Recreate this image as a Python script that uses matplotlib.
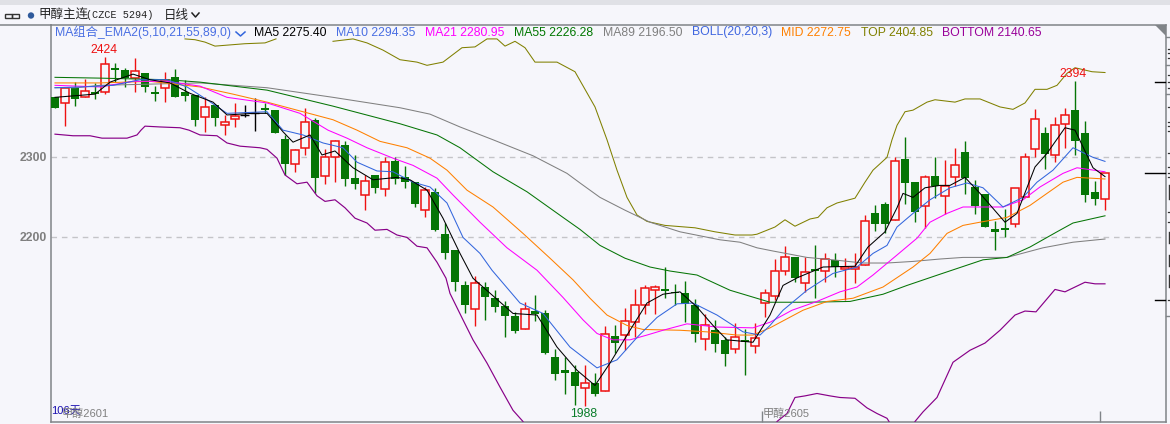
import numpy as np
from matplotlib import pyplot as plt
from matplotlib.lines import Line2D
from matplotlib.patches import Rectangle, Polygon, Ellipse

plt.rcParams['font.family'] = ['Liberation Sans', 'Noto Sans CJK SC', 'DejaVu Sans']

# daily candles
opens = [2374,2367,2386,2374,2381,2381,2411,2408,2398,2404,2381,2386,2399,2381,2377,2349,2364,2339,2347,2352,
         2354,2361,2358,2322,2291,2311,2346,2276,2299,2314,2273,2252,2277,2259,2294,2274,2268,2233,2256,2203,
         2183,2139,2109,2137,2123,2113,2101,2084,2107,2104,2049,2033,2031,2011,2017,2007,2076,2077,2093,2114,
         2133,2134,2131,2129,2114,2072,2083,2071,2059,2071,2063,2117,2126,2157,2174,2142,2159,2157,2171,2160,
         2160,2164,2229,2241,2221,2297,2268,2238,2276,2251,2274,2306,2262,2253,2209,2211,2216,2249,2309,2329,
         2302,2341,2358,2329,2256,2247]
highs = [2374,2386,2393,2397,2392,2424,2417,2411,2423,2404,2388,2406,2409,2396,2377,2374,2366,2352,2367,2364,
         2373,2367,2358,2327,2309,2361,2348,2309,2321,2319,2302,2277,2277,2299,2299,2288,2268,2262,2261,2217,
         2183,2144,2151,2143,2133,2119,2106,2118,2127,2108,2059,2049,2039,2039,2029,2088,2089,2111,2134,2139,
         2139,2162,2141,2144,2122,2103,2096,2074,2092,2084,2092,2134,2172,2188,2174,2174,2189,2179,2179,2173,
         2179,2227,2239,2243,2299,2324,2268,2277,2299,2296,2311,2319,2271,2253,2219,2234,2261,2304,2359,2337,
         2349,2361,2394,2344,2269,2279]
lows = [2361,2338,2363,2374,2372,2378,2393,2387,2381,2381,2369,2368,2374,2369,2338,2331,2338,2327,2337,2349,
        2332,2354,2329,2277,2281,2302,2254,2266,2268,2263,2259,2233,2254,2251,2266,2261,2237,2224,2207,2172,
        2132,2104,2088,2096,2106,2074,2079,2084,2094,2053,2021,2003,1989,1988,2001,2007,2054,2058,2074,2103,
        2103,2123,2114,2093,2068,2058,2056,2038,2054,2027,2054,2099,2121,2152,2143,2131,2123,2143,2149,2121,
        2142,2164,2207,2204,2221,2241,2218,2211,2248,2228,2263,2253,2228,2212,2183,2199,2212,2249,2299,2284,
        2293,2311,2302,2243,2239,2233]
closes = [2361,2386,2372,2382,2378,2416,2408,2398,2407,2387,2378,2396,2374,2376,2346,2362,2348,2343,2351,2352,
          2354,2358,2329,2291,2308,2343,2273,2299,2319,2272,2266,2269,2261,2293,2272,2268,2241,2258,2208,2179,
          2143,2114,2142,2124,2112,2101,2082,2109,2103,2054,2028,2029,2013,2017,2003,2078,2067,2094,2114,2136,
          2137,2132,2129,2116,2078,2089,2066,2053,2074,2068,2073,2129,2157,2174,2148,2156,2157,2172,2162,2162,
          2162,2219,2216,2216,2294,2267,2231,2274,2263,2263,2289,2273,2238,2212,2206,2208,2261,2299,2347,2303,
          2339,2352,2319,2252,2247,2279]

# overlay lines (x = candle number)
ma5_x = [0,4,5.5,7.8,9.5,11.5,13.5,15.8,17.2,19.8,21.2,22.8,23.8,25.5,26.7,28,29.8,31.8,34.2,35.5,37.2,38.8,40.5,41.8,42.8,45.8,48.2,50.2,52.2,54,55.5,57.5,59.2,60.8,62.5,64.2,65.8,67.2,69.8,71.5,72.8,74.3,76.8,80,81.3,83,84.2,84.8,85.8,87,88.5,89.5,91,92.5,95,96.2,98,99.2,101,102,103.8,105]
ma5 = [2374,2378,2393,2403,2396,2392,2379,2368,2352,2354,2354,2331,2318,2327,2302,2307,2286,2271,2274,2271,2258,2223,2179,2148,2137,2104,2102,2062,2033,2014,2042,2083,2117,2128,2131,2112,2089,2071,2068,2102,2139,2149,2162,2163,2187,2206,2236,2254,2249,2261,2264,2264,2274,2254,2218,2229,2287,2304,2336,2333,2286,2275]
ma10_x = [0,2.8,5.8,8.5,11.2,13.2,15.2,17.2,21.2,22.8,24.8,26.8,28.8,30.2,32.2,33.8,35.8,37.5,39.2,40.8,42.5,43.7,46.5,48.8,51.5,54.2,56.2,58.2,60.2,62.2,63.8,66.2,68.8,70.5,71.5,72.8,75.2,77.8,80.2,81.8,83.2,84.2,85.8,87.5,89.5,91.2,92.8,94.8,96.8,98.2,99.8,101.8,103.8,105]
ma10 = [2386,2387,2389,2396,2396,2387,2371,2354,2356,2333,2327,2317,2311,2293,2282,2281,2268,2262,2242,2199,2179,2158,2117,2104,2062,2036,2046,2074,2099,2116,2117,2102,2081,2077,2089,2108,2133,2154,2162,2179,2189,2212,2229,2246,2261,2267,2261,2237,2249,2268,2283,2311,2299,2294]
ma21_x = [0,4.5,7.8,11.2,14.5,17.2,21.2,24.5,27.3,29.2,31.2,33.8,35.8,38.2,39.8,42.5,45.2,48.2,50.8,52.8,54.2,55.8,57.5,59.2,60.8,63.2,66.2,69.8,71.5,73.7,76.2,78.5,80.2,81.8,84.2,86.2,87.5,89.2,90.8,94.8,96.8,98.5,100.8,102.2,105]
ma21 = [2389,2387,2394,2394,2388,2374,2367,2354,2333,2323,2311,2298,2289,2273,2252,2218,2186,2158,2124,2096,2079,2071,2071,2077,2083,2091,2087,2086,2093,2108,2119,2131,2137,2152,2177,2198,2218,2229,2237,2237,2246,2262,2279,2286,2281]
ma55_x = [0,4.5,11.2,14.5,21.2,27.8,34.5,38.2,40.5,43.8,47.2,50.8,52.5,54.5,57,59.5,61.5,64.2,67.5,71.5,75.2,79.5,82.8,85.2,88.5,92.8,95.2,97.5,100.2,101.8,105]
ma55 = [2399,2398,2396,2393,2383,2363,2341,2327,2311,2281,2256,2224,2209,2189,2173,2162,2157,2152,2133,2118,2118,2119,2128,2139,2153,2171,2174,2187,2206,2217,2226]
ma89_x = [0,2,4.5,14.5,21.2,27.8,34.5,37.5,40.5,43.8,45.2,47.8,51.2,52.5,54.5,57,59.5,62.5,66.5,68.5,70.2,71.8,75.2,77.8,80.8,83.2,85.8,88.5,90.8,95.2,98.8,101.8,105]
ma89 = [2386,2386,2389,2392,2386,2374,2361,2353,2337,2321,2314,2301,2279,2267,2249,2233,2218,2206,2196,2193,2186,2182,2174,2171,2167,2167,2169,2172,2174,2174,2186,2193,2197]
mid_x = [0,4.5,9.5,14.5,17.8,21.2,27.8,30.2,32.5,35.2,37.5,39.2,41.2,43.8,46.8,49.5,51.8,53.5,55.2,57.2,58.8,62.5,65.2,68.2,69.8,71.5,74.8,77.2,79.8,82.8,85.8,87.5,89.2,90.8,92.5,95.2,97.5,99.2,100.8,102.2,105]
mid = [2392,2392,2394,2387,2378,2368,2346,2333,2319,2311,2298,2283,2258,2237,2204,2173,2146,2123,2102,2089,2084,2083,2081,2077,2077,2086,2108,2119,2123,2137,2162,2179,2204,2214,2218,2224,2239,2254,2268,2274,2272]
top_x = [13,14,15,16,17,19,21,22.1,25,27.8,29.8,31.2,32.8,34.5,36.2,37.2,38.8,40.7,42,43.2,44.2,45,46,47,48,50.2,52,54,55.2,56.2,57.2,58.2,59.2,61,64,66,68,69.7,70.2,72,73,74,75.5,76.3,77.2,78.2,80,81,81.8,83.2,83.7,84.2,85,85.8,87.2,88,90,91,92.5,94.5,95.8,97,98,99.2,100.2,101.2,102,103.7,105]
top = [2447,2446,2443,2438,2439,2441,2442,2447,np.nan,2444,2447,2442,2433,2421,2418,2414,2418,2436,2437,2447,2447,2438,2444,2436,2418,2418,2406,2362,2321,2283,2249,2227,2219,2214,2211,2206,2202,2202,2203,2212,2221,2213,2222,2224,2236,2242,2248,2268,2283,2299,2321,2339,2356,2358,2368,2371,2368,2372,2372,2362,2359,2367,2384,2384,2389,2404,2411,2406,2405]
bottom_x = [0,1.8,3.5,4.7,7.2,8.2,8.6,9,10.5,12.5,13.4,14.5,16.2,17.2,18.5,20.5,21.2,22.2,23,24.2,25.2,26.2,27,28,29,30,31.2,32,33.2,34.2,35.2,36.2,37.2,38.2,39.1,39.5,40.8,41.8,43.2,44.5,45.8,46.8,60,72.2,73.2,74,75,76.2,77.5,78.5,80,81.2,82.2,83.2,83.4,85,86,86.8,88.2,89.8,91.5,93,94.5,96,97,98.1,100,101,103,104,105]
bottom = [2328,2326,2326,2323,2323,2327,2333,2338,2337,2336,2333,2327,2326,2317,2313,2311,2309,2298,2277,2266,2268,2251,2244,2246,2236,2223,2217,2208,2209,2202,2199,2188,2186,2168,2148,2129,2096,2071,2042,2012,1983,1969,np.nan,1969,1979,1999,2001,2004,2001,1999,1998,1986,1979,1973,1969,np.nan,1969,1981,1999,2043,2058,2067,2083,2102,2107,2106,2134,2131,2143,2141,2141]

legend_items = [('MA组合_EMA2(5,10,21,55,89,0)', 55, '#4a6fe3'), ('MA5 2275.40', 254, '#000000'),
                ('MA10 2294.35', 336, '#4a6fe3'), ('MA21 2280.95', 425, '#ff00ff'),
                ('MA55 2226.28', 514, '#007700'), ('MA89 2196.50', 603, '#808080'),
                ('BOLL(20,20,3)', 692, '#3f66e0'), ('MID 2272.75', 781, '#ff8000'),
                ('TOP 2404.85', 861, '#808000'), ('BOTTOM 2140.65', 942, '#990099')]

W, H = 1170, 424
BG = '#f6f6fb'
RED = '#ee1111'
GREEN = '#067506'
GRAY = '#808488'


def fx(x):
    return x / W


def fy(y):
    return 1 - y / H


fig = plt.figure(figsize=(W / 100, H / 100), dpi=100, facecolor=BG)
ax = fig.add_axes([fx(51), fy(421.5), (1166 - 51) / W, (421.5 - 24.5) / H], facecolor=BG)
ax.set_xlim(-0.4, 111.1)
ax.set_ylim(1969.0, 2465.0)

ax.set_yticks([2200, 2300])
ax.set_xticks([70.7, 104.5])
ax.set_xticklabels(['', ''])
ax.tick_params(axis='y', length=0, pad=3, labelsize=8.8, labelcolor='#7f7f7f')
ax.tick_params(axis='x', direction='in', length=8, width=1, color=GRAY)
for t in ax.get_yticklabels():
    t.set_fontweight('bold')
ax.grid(axis='y', color='#c4c4c8', linestyle=(0, (4, 3.5)), linewidth=1)
ax.set_axisbelow(True)
for s in ax.spines.values():
    s.set_color(GRAY)
    s.set_linewidth(1.1)

# candles
xs = np.arange(len(opens))
o = np.array(opens, dtype=float)
h = np.array(highs, dtype=float)
l = np.array(lows, dtype=float)
c = np.array(closes, dtype=float)
up = c > o
down = c < o
flat = c == o
ax.vlines(xs[up], l[up], h[up], color=RED, linewidth=1, zorder=2)
ax.vlines(xs[down], l[down], h[down], color=GREEN, linewidth=1, zorder=2)
ax.vlines(xs[flat], l[flat], h[flat], color='black', linewidth=1, zorder=2)
ax.bar(xs[up], (c - o)[up], bottom=o[up], width=0.8, facecolor=BG, edgecolor=RED, linewidth=1.1, zorder=3)
ax.bar(xs[down], (c - o)[down], bottom=o[down], width=0.88, color=GREEN, linewidth=0, zorder=3)
ax.hlines(c[flat], xs[flat] - 0.45, xs[flat] + 0.45, color='black', linewidth=1, zorder=3)

# moving averages and bands
lw = 0.75
ax.plot(bottom_x, bottom, color='#880088', lw=lw + 0.1, zorder=4)
ax.plot(top_x, top, color='#808000', lw=lw, zorder=4)
ax.plot(ma89_x, ma89, color='#808080', lw=lw, zorder=4)
ax.plot(ma55_x, ma55, color='#067506', lw=lw, zorder=4)
ax.plot(mid_x, mid, color='#ff8000', lw=lw, zorder=4)
ax.plot(ma21_x, ma21, color='#ff00ff', lw=lw, zorder=4)
ax.plot(ma10_x, ma10, color='#3366dd', lw=lw, zorder=4)
ax.plot(ma5_x, ma5, color='black', lw=lw, zorder=5)

# high/low labels
ax.annotate('2424', xy=(5, 2424), xytext=(-1, 1), textcoords='offset pixels', ha='center', va='bottom',
            color=RED, fontsize=8.8, zorder=6)
ax.annotate('2394', xy=(102, 2394), xytext=(-2, 1), textcoords='offset pixels', ha='center', va='bottom',
            color=RED, fontsize=8.8, zorder=6)
ax.annotate('1988', xy=(53, 1988), xytext=(-1, -2), textcoords='offset pixels', ha='center', va='top',
            color='#0a7d2a', fontsize=8.8, zorder=6)

# top strip and header
fig.patches.append(Rectangle((0, fy(4.5)), 1, 4.5 / H, transform=fig.transFigure, facecolor='#e0e1e6', edgecolor='none'))
fig.add_artist(Line2D([0, fx(51)], [fy(24.5), fy(24.5)], color=GRAY, lw=1.1))
for bx in [5, 12]:
    fig.patches.append(Rectangle((fx(bx), fy(17.5)), 7 / W, 4 / H, transform=fig.transFigure,
                                 facecolor='none', edgecolor='#333333', linewidth=1))
fig.patches.append(Ellipse((fx(31), fy(15.5)), 6.4 / W, 6.4 / H, transform=fig.transFigure,
                           facecolor='#2f5a9c', edgecolor='none'))
fig.text(fx(38), fy(15.5), '甲醇主连', fontsize=9, color='#222222', va='center')
fig.text(fx(86), fy(15.5), '(CZCE 5294)', fontsize=7.3, family='Liberation Mono', color='#222222', va='center')
fig.text(fx(164), fy(15.5), '日线', fontsize=9, color='#222222', va='center')
fig.add_artist(Line2D([fx(192), fx(195.5), fx(199)], [fy(13), fy(17), fy(13)], color='#222222', lw=1.1))

# legend line
for label, lx, col in legend_items:
    fig.text(fx(lx), fy(32.5), label, fontsize=8.8, color=col, va='center')
fig.add_artist(Line2D([fx(236), fx(240.5), fx(245)], [fy(32), fy(36), fy(32)], color='#3366dd', lw=1.1))

# bottom labels
fig.text(fx(51), fy(411), '106天', fontsize=8, color='#1a10b0', va='center')
fig.text(fx(62), fy(414), '甲醇2601', fontsize=8, color='#808080', va='center')
fig.text(fx(763), fy(414), '甲醇2605', fontsize=8, color='#808080', va='center')

# right edge: corner mark, last price marks, clipped axis labels
fig.patches.append(Polygon([(fx(1155), fy(24.5)), (fx(1166), fy(24.5)), (fx(1166), fy(36))], closed=True,
                           transform=fig.transFigure, facecolor=GRAY, edgecolor='none'))
for y, x0 in [(82, 1155), (173, 1145), (300, 1155)]:
    fig.add_artist(Line2D([fx(x0), fx(1165)], [fy(y), fy(y)], color='black', lw=1))
for y in [37, 65, 94, 316]:
    fig.add_artist(Line2D([fx(1166), fx(1170)], [fy(y), fy(y)], color=GRAY, lw=1))
for y in [49, 53, 58, 75, 82, 88, 107, 122, 126, 131, 153, 167, 173, 177, 212, 222, 300]:
    fig.add_artist(Line2D([fx(1168), fx(1170)], [fy(y), fy(y)], color='#333333', lw=0.9))
for y0, y1 in [(185, 199), (232, 243), (255, 266), (275, 287)]:
    fig.add_artist(Line2D([fx(1169), fx(1169)], [fy(y0), fy(y1)], color='#333333', lw=1))

fig.savefig('out.png', dpi=100, facecolor=BG)
